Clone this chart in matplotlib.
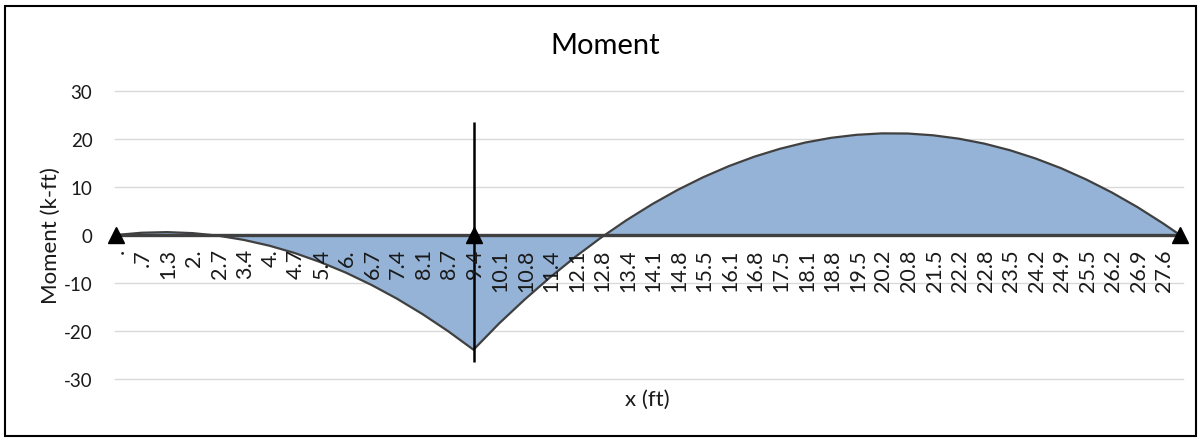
import matplotlib
matplotlib.use("Agg")
import matplotlib.pyplot as plt
from matplotlib.patches import Rectangle

plt.rcParams['font.family'] = ['Lato', 'DejaVu Sans']

# ---- data ----
x_ft = [0.0, 0.672, 1.344, 2.016, 2.688, 3.36, 4.032, 4.704, 5.376, 6.048,
        6.72, 7.392, 8.064, 8.736, 9.408, 10.08, 10.752, 11.424, 12.096, 12.768,
        13.44, 14.112, 14.784, 15.456, 16.128, 16.8, 17.472, 18.144, 18.816, 19.488,
        20.16, 20.832, 21.504, 22.176, 22.848, 23.52, 24.192, 24.864, 25.536, 26.208,
        26.88, 27.552, 28.0]
moment = [0.0, 0.47, 0.60, 0.39, -0.14, -1.02, -2.22, -3.76, -5.64, -7.84,
          -10.39, -13.26, -16.47, -20.02, -23.9, -18.44, -13.46, -8.81, -4.50, -0.52,
          3.12, 6.43, 9.41, 12.05, 14.35, 16.32, 17.96, 19.27, 20.24, 20.87,
          21.17, 21.14, 20.77, 20.07, 19.04, 17.67, 15.96, 13.93, 11.55, 8.85,
          5.81, 2.43, 0.0]
tick_labels = [".", ".7", "1.3", "2.", "2.7", "3.4", "4.", "4.7", "5.4", "6.",
               "6.7", "7.4", "8.1", "8.7", "9.4", "10.1", "10.8", "11.4", "12.1", "12.8",
               "13.4", "14.1", "14.8", "15.5", "16.1", "16.8", "17.5", "18.1", "18.8", "19.5",
               "20.2", "20.8", "21.5", "22.2", "22.8", "23.5", "24.2", "24.9", "25.5", "26.2",
               "26.9", "27.6"]
support_x = [0.0, 9.408, 28.0]
support_y = [0.0, 0.0, 0.0]
marker_line_x = 9.408
marker_line_range = (-26.5, 23.5)
y_ticks = [-30, -20, -10, 0, 10, 20, 30]

W, H = 1200, 439
fig = plt.figure(figsize=(W / 100, H / 100), dpi=100)
fig.patch.set_facecolor('white')

# chart border
fig.add_artist(Rectangle((5 / W, 2 / H), 1191 / W, 430 / H, transform=fig.transFigure,
                         fill=False, edgecolor='black', linewidth=1.5))

left, right = 116 / W, 1180 / W
top, bottom = 1 - 92 / H, 1 - 380 / H
ax = fig.add_axes([left, bottom, right - left, top - bottom])

ax.set_xlim(0, 28.0)
ax.set_ylim(-30, 30)

# gridlines
for yv in y_ticks:
    ax.axhline(yv, color='#d9d9d9', linewidth=1.0, zorder=0, clip_on=False,
               xmin=-0.001, xmax=1.003)

ax.fill_between(x_ft, moment, 0, color='#95b3d7', linewidth=0, zorder=1)
ax.plot(x_ft, moment, color='#404040', linewidth=1.6, zorder=2)
ax.plot([x_ft[0], x_ft[-1]], [0, 0], color='#404040', linewidth=2.4, zorder=3)

ax.vlines(marker_line_x, marker_line_range[0], marker_line_range[1],
          color='black', linewidth=1.8, zorder=4)
ax.plot(support_x, support_y, linestyle='none', marker='^', markersize=12,
        color='black', zorder=5, clip_on=False)

for s in ax.spines.values():
    s.set_visible(False)

ax.set_yticks(y_ticks)
ax.set_yticklabels([str(v) for v in y_ticks], fontsize=13.5, color='#1a1a1a')
ax.tick_params(axis='y', length=0, pad=17)

ax.set_xticks([])
for xv, lab in zip(x_ft, tick_labels):
    ax.annotate(lab, xy=(xv, 0), xycoords='data', xytext=(1, -9.5),
                textcoords='offset points', rotation=90, ha='center', va='top',
                fontsize=15.5, color='#1a1a1a', annotation_clip=False, zorder=6)

fig.text(51 / W, 1 - 236 / H, 'Moment (k-ft)', ha='center', va='center',
         rotation=90, fontsize=16, color='#1a1a1a')
fig.text(647 / W, 1 - 400 / H, 'x (ft)', ha='center', va='center', fontsize=16,
         color='#1a1a1a')
fig.text(605 / W, 1 - 46 / H, 'Moment', ha='center', va='center', fontsize=21,
         color='black')

fig.savefig('out.png', dpi=100)
